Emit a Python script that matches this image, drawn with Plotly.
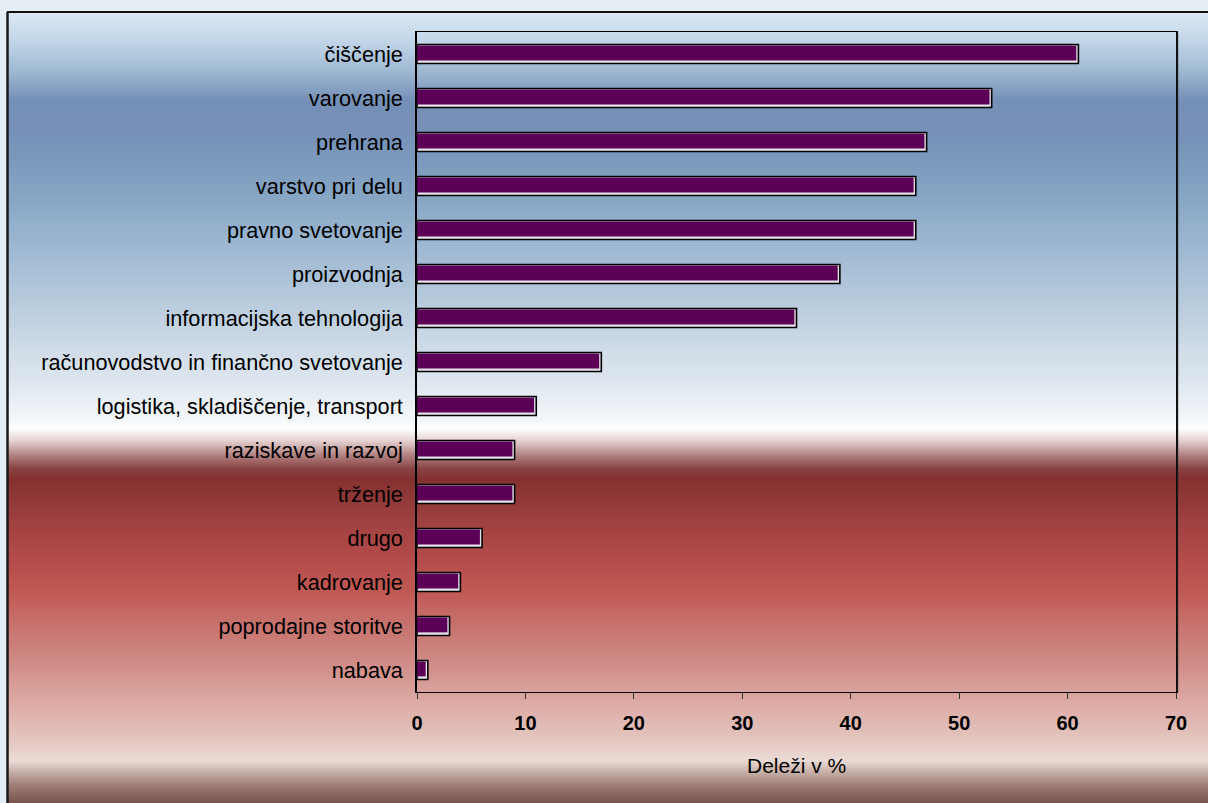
import zlib, struct, base64
import plotly.graph_objects as go

# ---- data ----
categories = [
    "čiščenje", "varovanje", "prehrana", "varstvo pri delu", "pravno svetovanje",
    "proizvodnja", "informacijska tehnologija", "računovodstvo in finančno svetovanje",
    "logistika, skladiščenje, transport", "raziskave in razvoj", "trženje", "drugo",
    "kadrovanje", "poprodajne storitve", "nabava",
]
values = [61, 53, 47, 46, 46, 39, 35, 17, 11, 9, 9, 6, 4, 3, 1]
x_ticks = [0, 10, 20, 30, 40, 50, 60, 70]
x_title = "Deleži v %"

# ---- canvas geometry (pixels) ----
W, H = 1208, 803
L, R, T, B = 417, 1176, 32, 692
PW, PH = R - L, B - T

def px(xp):
    return (xp - L) / PW

def py(yp):
    return (B - yp) / PH

# ---- background gradient as PNG ----
stops = [
    (12, (219, 232, 243)), (40, (195, 214, 232)), (70, (159, 185, 211)),
    (100, (117, 144, 182)), (130, (118, 144, 184)), (160, (123, 153, 188)),
    (200, (136, 167, 197)), (250, (159, 185, 211)), (300, (183, 202, 220)),
    (350, (208, 220, 232)), (380, (221, 230, 239)), (420, (244, 247, 250)),
    (428, (255, 255, 255)), (440, (230, 210, 210)), (455, (176, 128, 128)),
    (468, (138, 68, 68)), (478, (131, 49, 48)), (520, (158, 65, 64)),
    (560, (180, 76, 75)), (590, (192, 88, 83)), (620, (198, 111, 106)),
    (660, (207, 138, 133)), (700, (220, 168, 163)), (740, (228, 198, 192)),
    (760, (235, 219, 213)), (770, (203, 181, 174)), (785, (158, 126, 118)),
    (803, (118, 82, 74)),
]

def color_at(y):
    for (y0, c0), (y1, c1) in zip(stops, stops[1:]):
        if y0 <= y <= y1:
            t = (y - y0) / (y1 - y0) if y1 > y0 else 0
            return tuple(int(round(a + (b - a) * t)) for a, b in zip(c0, c1))
    return stops[-1][1]

rows = [color_at(y) for y in range(12, H)]

def make_png(rows):
    raw = b"".join(b"\x00" + bytes(c) for c in rows)
    def chunk(t, d):
        return struct.pack(">I", len(d)) + t + d + struct.pack(">I", zlib.crc32(t + d) & 0xffffffff)
    ihdr = struct.pack(">IIBBBBB", 1, len(rows), 8, 2, 0, 0, 0)
    return (b"\x89PNG\r\n\x1a\n" + chunk(b"IHDR", ihdr)
            + chunk(b"IDAT", zlib.compress(raw, 9)) + chunk(b"IEND", b""))

bg_uri = "data:image/png;base64," + base64.b64encode(make_png(rows)).decode()

FONT = "Liberation Sans, Arial, sans-serif"

fig = go.Figure()
# back (depth) face
fig.add_trace(go.Bar(
    x=values, y=categories, orientation="h",
    marker=dict(color="#e6e2ea", line=dict(color="#000000", width=1.6)),
    width=0.43, offset=-0.215, hoverinfo="skip", showlegend=False,
))
# front face
fig.add_trace(go.Bar(
    x=[v - 0.2 for v in values], y=categories, orientation="h",
    marker=dict(color="#5c0057", line=dict(width=0)),
    width=0.34, offset=-0.195, showlegend=False,
))

fig.update_layout(
    width=W, height=H,
    margin=dict(l=L, r=W - R, t=T, b=H - B, pad=0),
    barmode="overlay",
    paper_bgcolor="#e6eef5",
    plot_bgcolor="rgba(0,0,0,0)",
    font=dict(family=FONT, size=21.7, color="#000000"),
    images=[dict(
        source=bg_uri, xref="paper", yref="paper",
        x=px(7), y=py(12), sizex=(W - 7) / PW, sizey=(H - 12) / PH,
        xanchor="left", yanchor="top", sizing="stretch", layer="below",
    )],
    shapes=[
        dict(type="line", xref="paper", yref="paper", x0=px(7), x1=px(W + 5),
             y0=py(12), y1=py(12), line=dict(color="#111111", width=2), layer="above"),
        dict(type="line", xref="paper", yref="paper", x0=px(7.5), x1=px(7.5),
             y0=py(12), y1=py(H + 5), line=dict(color="#1a1a1a", width=2.5), layer="above"),
        dict(type="line", xref="paper", yref="paper", x0=px(R + 1.5), x1=px(R + 1.5),
             y0=py(T + 2), y1=py(B), line=dict(color="rgba(60,60,60,0.45)", width=2), layer="above"),
    ],
    annotations=[dict(
        text=x_title, xref="paper", yref="paper", x=0.5, y=py(765),
        xanchor="center", yanchor="middle", showarrow=False,
        font=dict(family=FONT, size=21, color="#000000"),
    )],
    xaxis=dict(
        range=[0, 70], tickvals=x_ticks, ticks="outside", ticklen=6, tickwidth=1,
        tickcolor="#333333", showline=True, linecolor="#000000", linewidth=1.2,
        mirror=True, showgrid=False, zeroline=False, fixedrange=True,
        tickfont=dict(family=FONT, size=20, color="#000000", weight="bold"),
        ticklabelstandoff=7,
    ),
    yaxis=dict(
        categoryorder="array", categoryarray=categories, range=[14.5, -0.5],
        ticks="outside", ticklen=8, tickcolor="rgba(0,0,0,0)",
        showline=True, linecolor="#000000", linewidth=1.5, mirror=True,
        showgrid=False, zeroline=False, fixedrange=True,
        tickfont=dict(family=FONT, size=21.7, color="#000000"),
    ),
)

fig.write_html(
    "out.html",
    config={"displayModeBar": False},
    post_script="document.body.style.margin='0';document.body.style.overflow='hidden';",
)
